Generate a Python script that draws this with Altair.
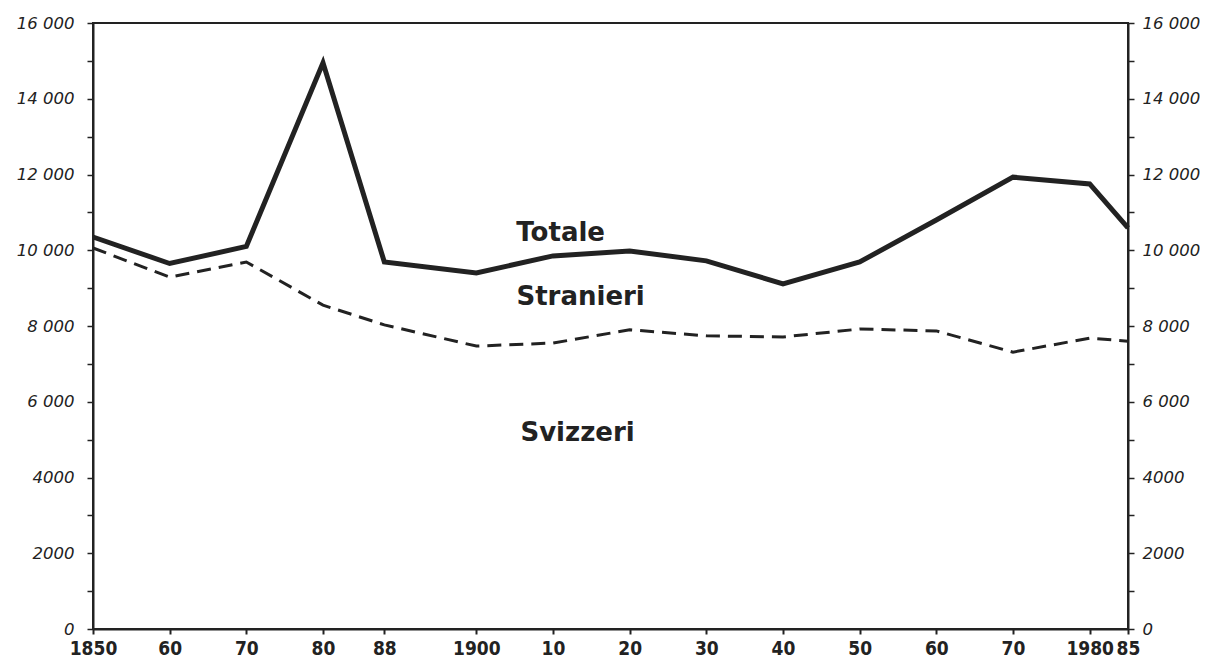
import altair as alt
import pandas as pd

years = [1850, 1860, 1870, 1880, 1888, 1900, 1910, 1920, 1930, 1940, 1950, 1960, 1970, 1980, 1985]
totale = [10350, 9650, 10100, 14950, 9690, 9400, 9850, 9980, 9720, 9110, 9690, 10800, 11930, 11750, 10590]
stranieri_line = [10060, 9290, 9690, 8550, 8030, 7470, 7550, 7900, 7740, 7710, 7920, 7870, 7310, 7680, 7600]

x_ticks = [1850, 1860, 1870, 1880, 1888, 1900, 1910, 1920, 1930, 1940, 1950, 1960, 1970, 1980, 1985]
x_tick_labels = ["1850", "60", "70", "80", "88", "1900", "10", "20", "30", "40", "50", "60", "70", "1980", "85"]
y_ticks = list(range(0, 16001, 1000))

ann_text = ["Totale", "Stranieri", "Svizzeri"]
ann_year = [1911, 1913.6, 1913.2]
ann_value = [10455, 8766, 5175]

df = pd.DataFrame({"year": years, "totale": totale, "stranieri": stranieri_line})
ann = pd.DataFrame({"text": ann_text, "year": ann_year, "value": ann_value})

# x label expression built from tick lists
expr = "''"
for v, l in zip(reversed(x_ticks), reversed(x_tick_labels)):
    expr = f"datum.value == {v} ? '{l}' : ({expr})"

y_label_expr = ("datum.value % 2000 != 0 ? '' : (datum.value >= 6000 ? "
                "replace(format(datum.value, ','), ',', ' ') : format(datum.value, 'd'))")

INK = "#222222"

x_enc = alt.X(
    "year:Q",
    scale=alt.Scale(domain=[1850, 1985], nice=False, zero=False),
    axis=alt.Axis(
        values=x_ticks, labelExpr=expr, title=None, grid=False,
        labelFont="DejaVu Sans Condensed, sans-serif",
        labelFontWeight="bold", labelFontSize=19, labelColor=INK,
        labelPadding=5, tickSize=5, tickWidth=2, tickColor=INK,
        domainColor=INK, domainWidth=2, labelOverlap=False, labelBound=False,
        labelFlush=False,
    ),
)

def y_axis(orient):
    return alt.Axis(
        orient=orient, values=y_ticks, labelExpr=y_label_expr, title=None, grid=False,
        labelFont="DejaVu Sans", labelFontStyle="italic", labelFontSize=16.5,
        labelColor=INK, labelPadding=13 if orient == "left" else 8,
        tickSize=6, tickWidth=1.5, tickColor=INK, domainColor=INK, domainWidth=2,
        labelOverlap=False, labelBound=False, labelFlush=False,
    )

yscale = alt.Scale(domain=[0, 16000], nice=False, zero=True)

base = alt.Chart(df)

line_tot = base.mark_line(color=INK, strokeWidth=5, strokeJoin="miter").encode(
    x=x_enc,
    y=alt.Y("totale:Q", scale=yscale, axis=y_axis("left")),
)

line_str = base.mark_line(color=INK, strokeWidth=3, strokeDash=[14, 8]).encode(
    x=x_enc,
    y=alt.Y("stranieri:Q", scale=yscale, axis=y_axis("right")),
)

labels = alt.Chart(ann).mark_text(
    font="DejaVu Sans", fontWeight="bold", fontSize=26, color=INK,
    align="center", baseline="middle",
).encode(
    x=x_enc,
    y=alt.Y("value:Q", scale=yscale, axis=None),
    text="text:N",
)

chart = alt.layer(line_tot, line_str, labels).resolve_scale(y="independent").properties(
    width=1035, height=606,
    background="white",
    autosize=alt.AutoSizeParams(type="none"),
    padding={"left": 85, "top": 15, "right": 72, "bottom": 30},
).configure_view(stroke=INK, strokeWidth=2)

chart.save("out.html", embed_options={"renderer": "svg", "actions": False})
